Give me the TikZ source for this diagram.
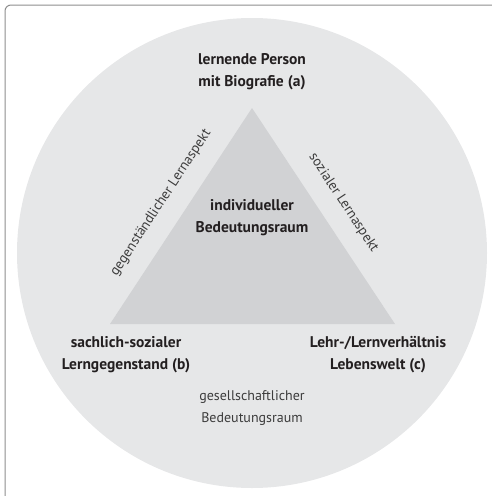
\documentclass[tikz,border=0pt]{standalone}
\usepackage{fontspec}
\setmainfont{PT Sans}
\usepackage{tikz}

\definecolor{outerfill}{HTML}{E6E7E8}
\definecolor{innerfill}{HTML}{D1D2D4}
\definecolor{framegray}{HTML}{8E8E8E}
\definecolor{textdark}{HTML}{231F20}
\definecolor{textgray}{HTML}{3C3C3C}

\tikzset{
  pole/.style={align=center, font=\fontsize{15.5}{22}\selectfont\bfseries, text=textdark},
  aspect/.style={font=\fontsize{14}{22}\selectfont, text=textgray},
}

\begin{document}
\begin{tikzpicture}[x=1pt,y=-1pt]

\useasboundingbox (0,0) rectangle (491,496);
\draw[framegray, line width=1pt, rounded corners=6pt] (5,500) -- (5,5) -- (500,5);

\fill[outerfill] (252,253) circle (235);

\coordinate (A) at (252,108);
\coordinate (B) at (110,324);
\coordinate (C) at (395,324);
\fill[innerfill] (A) -- (B) -- (C) -- cycle;

\node[pole] (a) at (252,72) {lernende Person\\mit Biografie (a)};
\node[pole] (b) at (126,355) {sachlich-sozialer\\Lerngegenstand (b)};
\node[pole] (c) at (378,355) {Lehr-/Lernverhältnis\\Lebenswelt (c)};
\node[pole] (ind) at (252,218) {individueller\\Bedeutungsraum};
\node[aspect, align=center] (ges) at (252,408) {gesellschaftlicher\\Bedeutungsraum};

\path (B) to node[aspect, sloped, above=14pt] (gegen) {gegenständlicher Lernaspekt} (A);
\path (A) to node[aspect, sloped, above=14pt] (sozial) {sozialer Lernaspekt} (C);

\end{tikzpicture}
\end{document}
